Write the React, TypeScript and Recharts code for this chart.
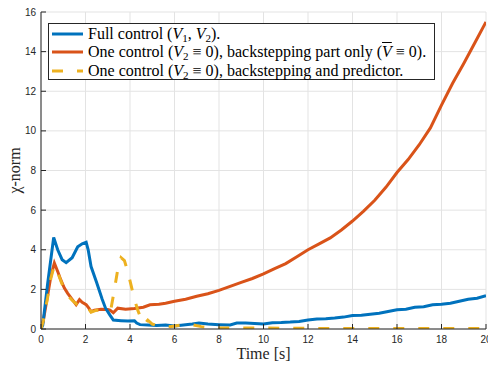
import React from "react"
import { LineChart, Line, XAxis, YAxis, CartesianGrid, Legend } from "recharts"

const xTicks = [0, 2, 4, 6, 8, 10, 12, 14, 16, 18, 20]
const yTicks = [0, 2, 4, 6, 8, 10, 12, 14, 16]

// Full control (V1, V2)
const fullT = [0, 0.08, 0.3, 0.57, 0.75, 0.95, 1.13, 1.4, 1.65, 1.85, 2.03, 2.12, 2.25, 2.5, 2.75, 2.9, 3.1, 3.25, 3.6, 3.9, 4.2, 4.3, 4.45, 4.8, 5.2, 5.6, 6.0, 6.4, 6.8, 7.1, 7.5, 8.0, 8.5, 8.8, 9.2, 9.6, 10.0, 10.4, 10.8, 11.2, 11.6, 12.0, 12.4, 12.8, 13.2, 13.6, 14.0, 14.4, 14.8, 15.2, 15.6, 16.0, 16.4, 16.8, 17.2, 17.6, 18.0, 18.4, 18.8, 19.2, 19.6, 20]
const fullNorm = [0, 0.2, 2.3, 4.62, 4.0, 3.5, 3.35, 3.6, 4.15, 4.3, 4.38, 4.0, 3.15, 2.35, 1.5, 1.05, 0.7, 0.45, 0.42, 0.4, 0.42, 0.3, 0.22, 0.2, 0.18, 0.2, 0.15, 0.2, 0.25, 0.3, 0.25, 0.22, 0.2, 0.3, 0.3, 0.28, 0.25, 0.32, 0.33, 0.35, 0.38, 0.45, 0.5, 0.52, 0.55, 0.6, 0.68, 0.7, 0.75, 0.8, 0.88, 0.97, 1.0, 1.1, 1.12, 1.22, 1.25, 1.3, 1.4, 1.5, 1.55, 1.68]

// One control, backstepping part only
const backT = [0, 0.1, 0.3, 0.45, 0.6, 0.75, 0.9, 1.05, 1.2, 1.4, 1.58, 1.73, 1.85, 2.03, 2.15, 2.25, 2.4, 2.7, 3.0, 3.1, 3.25, 3.45, 3.8, 4.2, 4.6, 4.9, 5.3, 5.6, 6.0, 6.5, 7.0, 7.5, 8.0, 8.5, 9.0, 9.5, 10.0, 10.5, 11.0, 11.5, 12.0, 12.5, 13.0, 13.5, 14.0, 14.5, 15.0, 15.5, 16.0, 16.5, 17.0, 17.5, 18.0, 18.5, 19.0, 19.5, 20]
const backNorm = [0, 0.4, 1.7, 2.7, 3.33, 2.9, 2.45, 2.07, 1.8, 1.5, 1.23, 1.48, 1.35, 1.23, 1.05, 0.88, 0.95, 1.0, 0.98, 0.95, 0.82, 1.05, 1.0, 1.03, 1.1, 1.22, 1.25, 1.3, 1.4, 1.5, 1.65, 1.78, 1.95, 2.15, 2.35, 2.55, 2.78, 3.05, 3.3, 3.65, 4.0, 4.3, 4.6, 5.0, 5.45, 5.95, 6.5, 7.15, 7.9, 8.55, 9.3, 10.15, 11.3, 12.4, 13.4, 14.45, 15.5]

// One control, backstepping and predictor
const predT = [0, 0.1, 0.3, 0.45, 0.6, 0.75, 0.9, 1.05, 1.2, 1.4, 1.6, 1.75, 1.9, 2.05, 2.25, 2.5, 2.8, 3.0, 3.15, 3.3, 3.45, 3.6, 3.75, 3.9, 4.05, 4.2, 4.35, 4.5, 4.65, 4.8, 5.0, 5.3, 5.8, 6.3, 6.8, 7.2, 7.6, 8.0, 9, 10, 12, 14, 16, 18, 20]
const predNorm = [0, 0.4, 1.6, 2.6, 3.2, 2.85, 2.4, 2.0, 1.7, 1.45, 1.25, 1.2, 1.25, 1.15, 0.85, 0.95, 0.95, 0.95, 1.05, 2.0, 3.0, 3.6, 3.45, 2.9, 2.2, 1.5, 0.95, 0.5, 0.25, 0.45, 0.25, 0.15, 0.12, 0.2, 0.22, 0.12, 0.07, 0.05, 0.05, 0.05, 0.03, 0.03, 0.03, 0.03, 0.03]

const toPoints = (t: number[], v: number[]) => t.map((x, i) => ({ t: x, v: v[i] }))

const BLUE = "#0072BD"
const ORANGE = "#D95319"
const YELLOW = "#EDB120"
const AXIS = "#262626"
const SERIF = "'Liberation Serif', 'Times New Roman', serif"
const SANS = "'Liberation Sans', Arial, sans-serif"

function BottomTick({ x, y, payload }: any) {
  return (
    <g>
      <line x1={x} y1={y} x2={x} y2={y - 5} stroke={AXIS} />
      <text x={x} y={y + 14} textAnchor="middle" fontFamily={SANS} fontSize={10} fill={AXIS}>
        {payload.value}
      </text>
    </g>
  )
}

function LeftTick({ x, y, payload }: any) {
  return (
    <g>
      <line x1={x} y1={y} x2={x + 5} y2={y} stroke={AXIS} />
      <text x={x - 5} y={y + 3.5} textAnchor="end" fontFamily={SANS} fontSize={10} fill={AXIS}>
        {payload.value}
      </text>
    </g>
  )
}

function TopTick({ x, y }: any) {
  return <line x1={x} y1={y} x2={x} y2={y + 5} stroke={AXIS} />
}

function RightTick({ x, y }: any) {
  return <line x1={x} y1={y} x2={x - 5} y2={y} stroke={AXIS} />
}

const V = ({ sub, bar }: { sub?: string; bar?: boolean }) => (
  <span>
    <i style={bar ? { textDecoration: "overline" } : undefined}>V</i>
    {sub && <sub style={{ fontSize: 11, lineHeight: 0, verticalAlign: "-3px" }}>{sub}</sub>}
  </span>
)

function LegendRow({ color, dashed, children }: { color: string; dashed?: boolean; children: React.ReactNode }) {
  return (
    <div style={{ display: "flex", alignItems: "center", height: 18.3 }}>
      <svg width={31} height={6} style={{ marginRight: 5, flex: "none" }}>
        <line x1={0} y1={3} x2={31} y2={3} stroke={color} strokeWidth={3} strokeDasharray={dashed ? "11 14" : undefined} />
      </svg>
      <span style={{ whiteSpace: "nowrap" }}>{children}</span>
    </div>
  )
}

function LegendBox() {
  return (
    <div
      style={{
        boxSizing: "border-box",
        width: 387,
        height: 57,
        border: `1px solid ${AXIS}`,
        background: "#fff",
        padding: "1px 0 0 3px",
        fontFamily: SERIF,
        fontSize: 16,
        color: "#000",
      }}
    >
      <LegendRow color={BLUE}>
        Full control (<V sub="1" />, <V sub="2" />).
      </LegendRow>
      <LegendRow color={ORANGE}>
        One control (<V sub="2" /> ≡ 0), backstepping part only (<V bar /> ≡ 0).
      </LegendRow>
      <LegendRow color={YELLOW} dashed>
        One control (<V sub="2" /> ≡ 0), backstepping and predictor.
      </LegendRow>
    </div>
  )
}

export default function App() {
  return (
    <div style={{ width: 488, height: 367, background: "#fff" }}>
      <style>{"body{margin:0}"}</style>
      <LineChart width={488} height={367} margin={{ top: 12, right: 2, bottom: 0, left: 0 }}>
        <CartesianGrid stroke="#e3e3e3" horizontalValues={yTicks} verticalValues={xTicks} />
        <XAxis
          dataKey="t"
          type="number"
          domain={[0, 20]}
          ticks={xTicks}
          height={38}
          tickSize={0}
          tickMargin={0}
          tickLine={false}
          axisLine={{ stroke: AXIS }}
          tick={<BottomTick />}
          interval={0}
          allowDataOverflow
          label={{ value: "Time [s]", position: "insideBottom", offset: 8, fontFamily: SERIF, fontSize: 16, fill: AXIS }}
        />
        <XAxis
          xAxisId="top"
          orientation="top"
          type="number"
          domain={[0, 20]}
          ticks={xTicks}
          height={0}
          tickSize={0}
          tickMargin={0}
          tickLine={false}
          axisLine={{ stroke: AXIS }}
          tick={<TopTick />}
          interval={0}
          allowDataOverflow
        />
        <YAxis
          type="number"
          domain={[0, 16]}
          ticks={yTicks}
          width={41}
          tickSize={0}
          tickMargin={0}
          tickLine={false}
          axisLine={{ stroke: AXIS }}
          tick={<LeftTick />}
          interval={0}
          allowDataOverflow
          label={{
            value: "χ-norm",
            angle: -90,
            position: "insideLeft",
            offset: 14,
            fontFamily: SERIF,
            fontSize: 16,
            fill: AXIS,
            style: { textAnchor: "middle" },
          }}
        />
        <YAxis
          yAxisId="right"
          orientation="right"
          type="number"
          domain={[0, 16]}
          ticks={yTicks}
          width={0}
          tickSize={0}
          tickMargin={0}
          tickLine={false}
          axisLine={{ stroke: AXIS }}
          tick={<RightTick />}
          interval={0}
          allowDataOverflow
        />
        <Legend
          layout="horizontal"
          verticalAlign="middle"
          align="center"
          wrapperStyle={{ top: 23, left: 48, width: 387 }}
          content={() => <LegendBox />}
        />
        <Line data={toPoints(backT, backNorm)} dataKey="v" type="linear" stroke={ORANGE} strokeWidth={3} dot={false} isAnimationActive={false} />
        <Line data={toPoints(fullT, fullNorm)} dataKey="v" type="linear" stroke={BLUE} strokeWidth={3} dot={false} isAnimationActive={false} />
        <Line data={toPoints(predT, predNorm)} dataKey="v" type="linear" stroke={YELLOW} strokeWidth={3} strokeDasharray="11 14" dot={false} isAnimationActive={false} />
      </LineChart>
    </div>
  )
}
